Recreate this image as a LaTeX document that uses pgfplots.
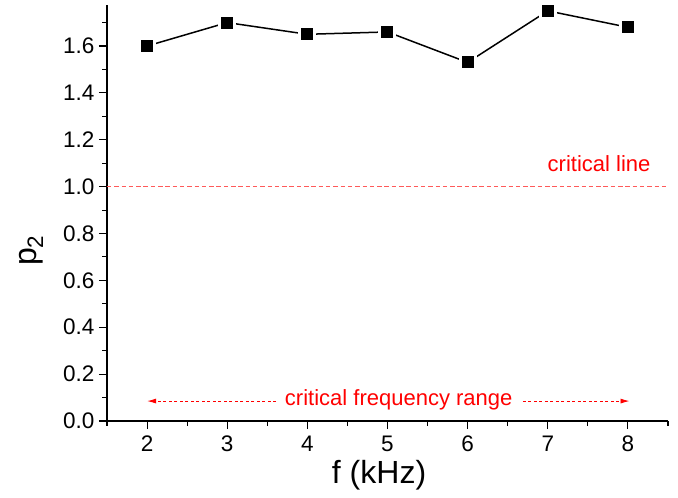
\documentclass[border=0pt]{standalone}
\usepackage{pgfplots}
\pgfplotsset{compat=1.18}
\usetikzlibrary{arrows.meta}
\usepackage{fontspec}
\setmainfont{Liberation Sans}
\definecolor{critred}{RGB}{255,90,90}
\begin{document}
\begin{tikzpicture}
\path[use as bounding box] (-107bp,-77bp) rectangle (571bp,421bp);
\begin{axis}[
  scale only axis,
  width=561bp, height=416bp,
  at={(0,0)}, anchor=south west,
  xmin=1.5, xmax=8.5, ymin=0, ymax=1.775,
  axis x line=bottom, axis y line=left,
  axis line style={-, line width=1.3bp},
  tick align=outside,
  major tick length=8bp, minor tick length=4.5bp,
  tick style={line width=1.1bp, black},
  xtick={2,3,4,5,6,7,8},
  minor xtick={1.5,2.5,...,8.5},
  ytick={0,0.2,...,1.6},
  minor ytick={0.1,0.3,...,1.7},
  yticklabel style={/pgf/number format/fixed, /pgf/number format/precision=1, /pgf/number format/fixed zerofill},
  /pgf/number format/assume math mode=true,
  tick label style={font=\fontsize{22.5bp}{26bp}\selectfont},
  xticklabel style={yshift=-3bp},
  yticklabel style={xshift=-1bp},
  xlabel={f (kHz)},
  ylabel={p\textsubscript{2}},
  xlabel style={font=\fontsize{32bp}{36bp}\selectfont, at={(axis description cs:0.485,0)}, anchor=base, yshift=-62bp},
  ylabel style={font=\fontsize{32bp}{36bp}\selectfont, at={(axis description cs:0,0.41)}, anchor=center, yshift=76bp},
  clip=false,
]
\addplot[black, line width=1.5bp, mark=square*, mark size=7.5bp,
  mark options={fill=black, draw=white, line width=3bp, solid}]
  coordinates {(2,1.60) (3,1.70) (4,1.65) (5,1.66) (6,1.53) (7,1.75) (8,1.68)};
\addplot[critred, line width=1bp, dash pattern=on 4.5bp off 2.8bp]
  coordinates {(1.5,1.0) (8.5,1.0)};
\node[red, anchor=base, font=\fontsize{22bp}{26bp}\selectfont] at (axis cs:7.64,1.064) {critical line};
\node[red, anchor=base, font=\fontsize{22bp}{26bp}\selectfont] at (axis cs:5.14,0.068) {critical frequency range};
\draw[red, line width=0.9bp, dash pattern=on 3bp off 2.5bp, -{Latex[length=9bp,width=5bp]}] (axis cs:3.61,0.085) -- (axis cs:2,0.085);
\draw[red, line width=0.9bp, dash pattern=on 3bp off 2.5bp, -{Latex[length=9bp,width=5bp]}] (axis cs:6.69,0.085) -- (axis cs:8.02,0.085);
\end{axis}
\end{tikzpicture}
\end{document}
